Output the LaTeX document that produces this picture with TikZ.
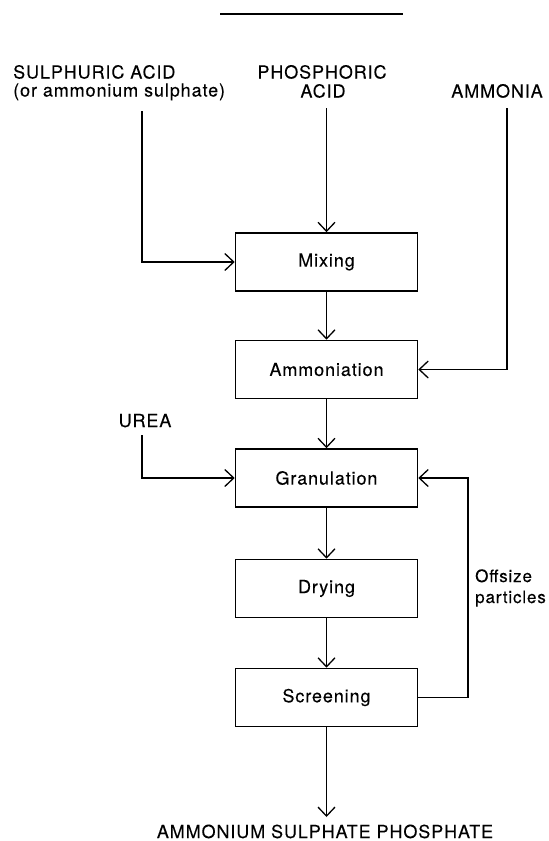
\documentclass[tikz,border=0pt]{standalone}
\usepackage{fontspec}
\setmainfont{TeX Gyre Heros}[LetterSpace=5, FakeBold=0.15]
\usetikzlibrary{arrows.meta}
\begin{document}
\begin{tikzpicture}[x=1pt,y=-1pt,
  proc/.style={draw, line width=1.6pt, minimum width=182pt, minimum height=58pt,
    inner sep=0pt, font=\fontsize{18}{21}\selectfont},
  lbl/.style={inner sep=0pt, font=\fontsize{18}{21}\selectfont},
  note/.style={inner sep=0pt, font=\fontsize{17}{20}\selectfont},
  flow/.style={line width=1.3pt,
    -{Straight Barb[length=9pt,width=17pt,line width=1.3pt]}},
  ]
\useasboundingbox (0,0) rectangle (549,841);

% rule above the chart
\draw[line width=1.2pt] (220,14) -- (403,14);

% process steps
\node[proc] (mix)  at (326.5,262)   {Mixing};
\node[proc] (amm)  at (326.5,369.5) {Ammoniation};
\node[proc] (gran) at (326.5,478)   {Granulation};
\node[proc] (dry)  at (326.5,588.5) {Drying};
\node[proc] (scr)  at (326.5,697.5) {Screening};

% feed and product labels
\node[lbl, anchor=base west] (sa1) at (13,78.5) {SULPHURIC ACID};
\node[lbl, anchor=base west] (sa2) at (13,96.5) {(or ammonium sulphate)};
\node[lbl, anchor=base] (pa1)  at (322,78.5) {PHOSPHORIC};
\node[lbl, anchor=base] (pa2)  at (323,97.5) {ACID};
\node[lbl, anchor=base] (am)   at (497,97.5) {AMMONIA};
\node[lbl, anchor=base] (urea) at (145,427)  {UREA};
\node[note, anchor=base west] (off1) at (475,582) {Offsize};
\node[note, anchor=base west] (off2) at (475,603) {particles};
\node[lbl, anchor=base] (prod) at (325,838) {AMMONIUM SULPHATE PHOSPHATE};

% free ends of the feed lines
\coordinate (saTop)   at (142,111);
\coordinate (paTop)   at (326.5,108);
\coordinate (amTop)   at (507,108);
\coordinate (ureaTop) at (142,435);
\coordinate (ret)     at (468,600);
\coordinate (out)     at (326.5,817);

% feeds
\draw[flow] (saTop) |- (mix.west);
\draw[flow] (paTop) -- (mix.north);
\draw[flow] (amTop) |- (amm.east);
\draw[flow] (ureaTop) |- (gran.west);

% main line
\draw[flow] (mix.south)  -- (amm.north);
\draw[flow] (amm.south)  -- (gran.north);
\draw[flow] (gran.south) -- (dry.north);
\draw[flow] (dry.south)  -- (scr.north);
\draw[flow] (scr.south)  -- (out);

% recycle of offsize particles
\draw[flow] (scr.east) -- (scr.east -| ret) -- (gran.east -| ret) -- (gran.east);
\end{tikzpicture}
\end{document}
